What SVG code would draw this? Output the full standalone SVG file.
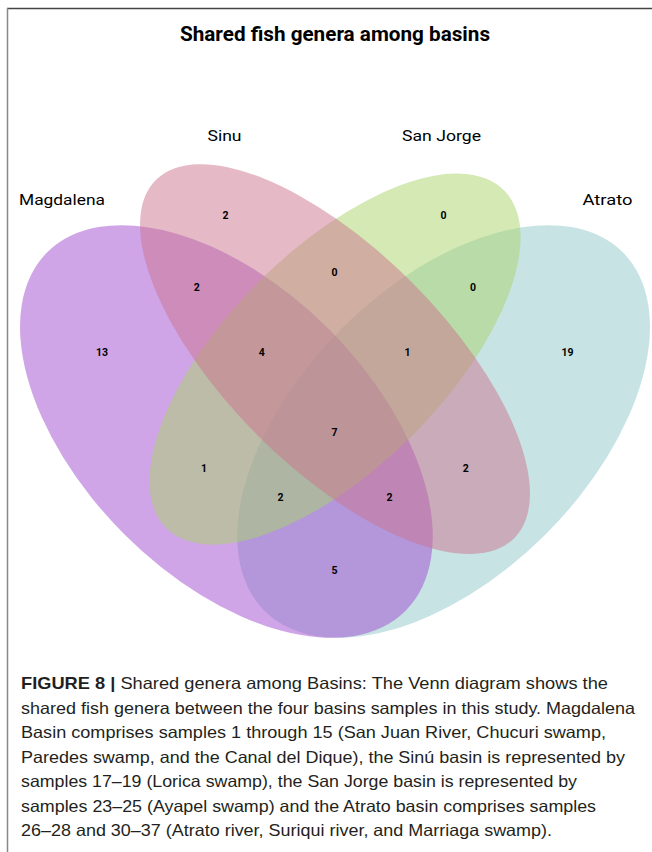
<svg xmlns="http://www.w3.org/2000/svg" width="652" height="852" viewBox="0 0 652 852">
<style>
.set{opacity:0.5}
.title{font-family:Roboto,"Liberation Sans",sans-serif;font-weight:bold;font-size:19.5px;fill:#000}
.cat{font-family:Roboto,"Liberation Sans",sans-serif;font-size:15.5px;fill:#000}
.num{font-family:Roboto,"Liberation Sans",sans-serif;font-weight:bold;font-size:10.5px;fill:#000;text-anchor:middle}
.cap{font-family:"Liberation Sans",Arial,sans-serif;font-size:16.5px;fill:#231f20}
.capb{font-weight:bold}
</style>
<rect x="0" y="0" width="652" height="852" fill="#fff"/>
<line x1="7" y1="8.5" x2="652" y2="8.5" stroke="#444" stroke-width="1.5"/>
<line x1="7.5" y1="8" x2="7.5" y2="852" stroke="#888" stroke-width="1.5"/>
<text class="title" x="335" y="41" text-anchor="middle" textLength="310" lengthAdjust="spacingAndGlyphs">Shared fish genera among basins</text>
<g id="atrato">
<ellipse class="set" cx="443.6" cy="431.5" rx="253.4" ry="144.8" transform="rotate(-45 443.6 431.5)" fill="#8FC7C9"/>
<text class="cat" x="607.5" y="205" text-anchor="middle" textLength="50" lengthAdjust="spacingAndGlyphs">Atrato</text>
</g>
<g id="magdalena">
<ellipse class="set" cx="226.4" cy="431.5" rx="253.4" ry="144.8" transform="rotate(45 226.4 431.5)" fill="#9F4BCF"/>
<text class="cat" x="62" y="205" text-anchor="middle" textLength="86" lengthAdjust="spacingAndGlyphs">Magdalena</text>
</g>
<g id="sanjorge">
<ellipse class="set" cx="335" cy="359.1" rx="238.9" ry="108.6" transform="rotate(-45 335 359.1)" fill="#A9D369"/>
<text class="cat" x="441.5" y="141" text-anchor="middle" textLength="79" lengthAdjust="spacingAndGlyphs">San Jorge</text>
</g>
<g id="sinu">
<ellipse class="set" cx="335" cy="359.1" rx="253.4" ry="108.6" transform="rotate(45 335 359.1)" fill="#CB738D"/>
<text class="cat" x="224.5" y="141" text-anchor="middle" textLength="34" lengthAdjust="spacingAndGlyphs">Sinu</text>
</g>
<g id="counts">
<text class="num" x="225.5" y="219">2</text>
<text class="num" x="443.5" y="219">0</text>
<text class="num" x="334.6" y="276">0</text>
<text class="num" x="196.7" y="291">2</text>
<text class="num" x="473" y="291">0</text>
<text class="num" x="102" y="356">13</text>
<text class="num" x="261.7" y="356">4</text>
<text class="num" x="407.5" y="356">1</text>
<text class="num" x="567.5" y="356">19</text>
<text class="num" x="334.6" y="436">7</text>
<text class="num" x="204" y="472">1</text>
<text class="num" x="465.8" y="472">2</text>
<text class="num" x="280.4" y="501">2</text>
<text class="num" x="389.6" y="501">2</text>
<text class="num" x="334.6" y="574">5</text>
</g>
<g id="caption">
<text class="cap" x="21" y="689" textLength="587" lengthAdjust="spacingAndGlyphs"><tspan class="capb">FIGURE 8 |</tspan> Shared genera among Basins: The Venn diagram shows the</text>
<text class="cap" x="21" y="713.5" textLength="614" lengthAdjust="spacingAndGlyphs">shared fish genera between the four basins samples in this study. Magdalena</text>
<text class="cap" x="21" y="738" textLength="585" lengthAdjust="spacingAndGlyphs">Basin comprises samples 1 through 15 (San Juan River, Chucuri swamp,</text>
<text class="cap" x="21" y="762.5" textLength="604" lengthAdjust="spacingAndGlyphs">Paredes swamp, and the Canal del Dique), the Sinú basin is represented by</text>
<text class="cap" x="21" y="787" textLength="556" lengthAdjust="spacingAndGlyphs">samples 17–19 (Lorica swamp), the San Jorge basin is represented by</text>
<text class="cap" x="21" y="811.5" textLength="575" lengthAdjust="spacingAndGlyphs">samples 23–25 (Ayapel swamp) and the Atrato basin comprises samples</text>
<text class="cap" x="21" y="836" textLength="531" lengthAdjust="spacingAndGlyphs">26–28 and 30–37 (Atrato river, Suriqui river, and Marriaga swamp).</text>
</g>
</svg>
